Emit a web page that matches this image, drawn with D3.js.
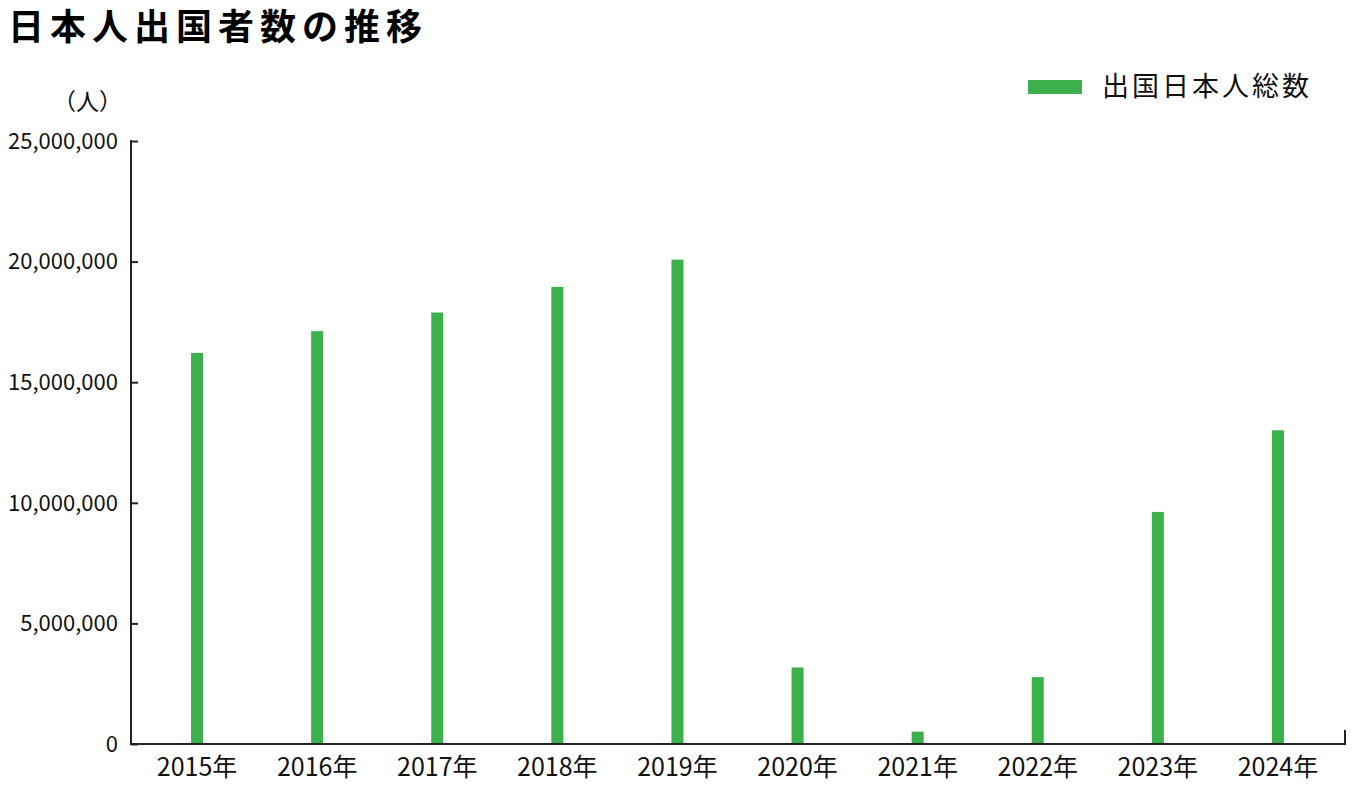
<!DOCTYPE html>
<html>
<head>
<meta charset="utf-8">
<script src="https://cdn.jsdelivr.net/npm/d3@7"></script>
<style>
  body { margin: 0; background: #fff; }
  text { font-family: "Noto Sans CJK JP", sans-serif; }
</style>
</head>
<body>
<script>
// data
var years = ["2015年", "2016年", "2017年", "2018年", "2019年", "2020年", "2021年", "2022年", "2023年", "2024年"];
var departures = [16213789, 17116420, 17889292, 18954031, 20080669, 3174219, 512244, 2771770, 9621784, 13007000];
var yTicks = [0, 5000000, 10000000, 15000000, 20000000, 25000000];

var w = 1360, h = 800;
var plotLeft = 131, plotRight = 1345, plotTop = 141, plotBottom = 744;

var svg = d3.select("body").append("svg")
    .attr("width", w)
    .attr("height", h);

var x = d3.scaleBand().domain(years).range([137, 1338]);
var y = d3.scaleLinear().domain([0, 25000000]).range([plotBottom, plotTop]);

// title
svg.append("text")
   .attr("x", 8).attr("y", 40)
   .attr("font-size", "36px").attr("font-weight", "bold")
   .attr("letter-spacing", "6px")
   .attr("fill", "#000")
   .text("日本人出国者数の推移");

// legend
svg.append("rect")
   .attr("x", 1028).attr("y", 80).attr("width", 54).attr("height", 14)
   .attr("fill", "#3cb04a");
svg.append("text")
   .attr("x", 1102).attr("y", 96)
   .attr("font-size", "27px").attr("letter-spacing", "3px")
   .attr("fill", "#111")
   .text("出国日本人総数");

// unit
svg.append("text")
   .attr("x", 122).attr("y", 110)
   .attr("text-anchor", "end")
   .attr("font-size", "23px")
   .attr("fill", "#111")
   .text("（人）");

// bars
svg.selectAll("rect.bar")
   .data(departures)
   .enter()
   .append("rect")
   .attr("class", "bar")
   .attr("x", function(d, i) { return x(years[i]) + x.bandwidth() / 2 - 6; })
   .attr("y", function(d) { return y(d); })
   .attr("width", 12)
   .attr("height", function(d) { return plotBottom - y(d); })
   .attr("fill", "#3cb04a");

// y axis
var yAxis = svg.append("g")
   .attr("transform", "translate(" + plotLeft + ",0)")
   .call(d3.axisRight(y).tickValues(yTicks).tickSize(7).tickFormat(""));
yAxis.select(".domain").remove();
yAxis.selectAll("line").attr("stroke", "#222").attr("stroke-width", 2);

svg.append("line")
   .attr("x1", plotLeft).attr("x2", plotLeft)
   .attr("y1", plotTop - 1).attr("y2", plotBottom + 1)
   .attr("stroke", "#222").attr("stroke-width", 2);

svg.selectAll("text.ytick")
   .data(yTicks)
   .enter()
   .append("text")
   .attr("class", "ytick")
   .attr("x", 118)
   .attr("y", function(d) { return y(d); })
   .attr("dy", "0.35em")
   .attr("text-anchor", "end")
   .attr("font-size", "22px")
   .attr("fill", "#111")
   .text(function(d) { return d3.format(",")(d); });

// x axis
svg.append("line")
   .attr("x1", plotLeft - 1).attr("x2", plotRight)
   .attr("y1", plotBottom).attr("y2", plotBottom)
   .attr("stroke", "#222").attr("stroke-width", 2);
svg.append("line")
   .attr("x1", plotRight).attr("x2", plotRight)
   .attr("y1", plotBottom + 1).attr("y2", 730)
   .attr("stroke", "#222").attr("stroke-width", 2);

var xAxis = svg.append("g")
   .attr("transform", "translate(0," + plotBottom + ")")
   .call(d3.axisBottom(x).tickSize(0).tickPadding(14));
xAxis.select(".domain").remove();
xAxis.selectAll("text")
   .attr("font-size", "25px")
   .attr("font-family", "Noto Sans CJK JP")
   .attr("fill", "#111")
   .attr("dy", "0.71em");
</script>
</body>
</html>
